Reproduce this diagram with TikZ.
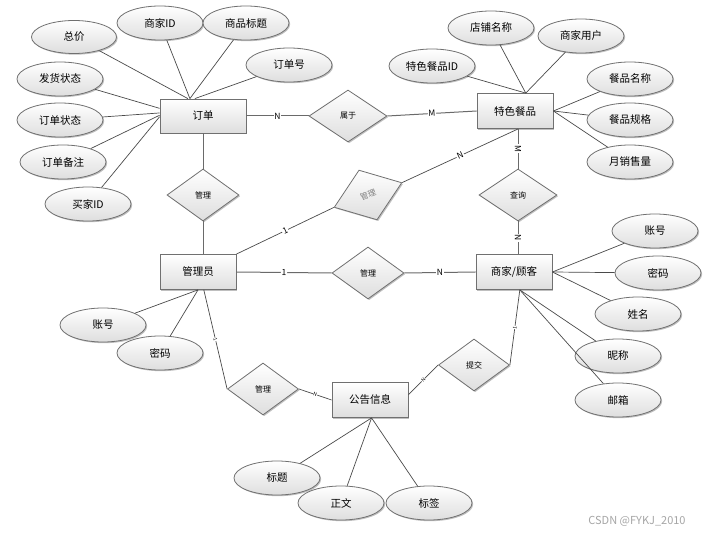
\documentclass[tikz,border=0pt]{standalone}
\usepackage{fontspec}
\setmainfont{Noto Sans CJK SC}
\usetikzlibrary{shapes.geometric,shadows}
\definecolor{edgec}{HTML}{707070}
\definecolor{linec}{HTML}{4A4A4A}
\definecolor{relc}{HTML}{6A6A6A}
\tikzset{
  boxshade/.style={top color=white, bottom color=black!13, draw=edgec, line width=0.8pt,
    drop shadow={shadow xshift=1.2pt, shadow yshift=-1.2pt, fill=black, opacity=0.25}},
  attr/.style={boxshade, ellipse, minimum width=86pt, minimum height=34pt, inner sep=0pt, font=\fontsize{10.5}{12}\selectfont},
  ent/.style={boxshade, rectangle, minimum width=76pt, minimum height=35pt, inner sep=0pt, font=\fontsize{10.5}{12}\selectfont},
  rel/.style={boxshade, diamond, minimum width=72pt, minimum height=52pt, inner sep=0pt, font=\fontsize{8}{9}\selectfont},
  aln/.style={draw=linec, line width=0.7pt},
  rln/.style={draw=relc, line width=1pt},
  lbl/.style={fill=white, inner sep=0.8pt, font=\fontsize{8.5}{9}\selectfont, sloped},
  tlbl/.style={fill=white, inner sep=0.3pt, font=\fontsize{5}{5}\selectfont, sloped}
}
\begin{document}
\begin{tikzpicture}[x=1pt,y=-1pt]
\useasboundingbox (0,0) rectangle (710,534);
\fill[white] (0,0) rectangle (710,534);

% entities
\node[ent, minimum width=86pt, minimum height=34pt] (dd) at (203,116) {订单};
\node[ent] (ts) at (515,111) {特色餐品};
\node[ent] (gly) at (198,272) {管理员};
\node[ent] (sj) at (514,272) {商家/顾客};
\node[ent] (gg) at (370,400) {公告信息};

% relations
\node[rel, minimum width=78pt] (sy) at (348,116) {属于};
\node[rel] (gl1) at (203,195) {管理};
\node[rel, minimum height=53pt, rotate=20, text=gray] (gl2) at (368,195) {管理};
\node[rel, minimum width=78pt] (cx) at (518,195) {查询};
\node[rel] (gl3) at (368,273) {管理};
\node[rel, minimum width=71pt] (tj) at (474,365) {提交};
\node[rel, minimum width=71pt] (gl4) at (263,389) {管理};

% attributes of 订单
\node[attr, minimum width=85pt, minimum height=33pt] (zj) at (74,37) {总价};
\node[attr] (sjid) at (160,23) {商家ID};
\node[attr] (spbt) at (246,23) {商品标题};
\node[attr] (ddh) at (289,65) {订单号};
\node[attr] (fhzt) at (60,79) {发货状态};
\node[attr] (ddzt) at (60,120) {订单状态};
\node[attr] (ddbz) at (63,162) {订单备注};
\node[attr] (mjid) at (88,204) {买家ID};

% attributes of 特色餐品
\node[attr] (dpmc) at (491,28) {店铺名称};
\node[attr] (sjyh) at (581,36) {商家用户};
\node[attr] (tsid) at (432,66) {特色餐品ID};
\node[attr] (cpmc) at (630,79) {餐品名称};
\node[attr] (cpgg) at (630,120) {餐品规格};
\node[attr] (yxl) at (630,162) {月销售量};

% attributes of 商家/顾客
\node[attr] (zh2) at (655,231) {账号};
\node[attr] (mm2) at (658,273) {密码};
\node[attr] (xm) at (638,314) {姓名};
\node[attr] (nc) at (618,356) {昵称};
\node[attr] (yx) at (618,400) {邮箱};

% attributes of 管理员
\node[attr] (zh1) at (103,325) {账号};
\node[attr] (mm1) at (160,353) {密码};

% attributes of 公告信息
\node[attr] (bt) at (277,478) {标题};
\node[attr] (zw) at (341,503) {正文};
\node[attr] (bq) at (429,503) {标签};

% attribute lines
\begin{scope}[on background layer/.style={}]
\draw[aln] (zj) -- (dd.131);
\draw[aln] (sjid) -- (dd.127);
\draw[aln] (spbt) -- (dd.127);
\draw[aln] (ddh) -- (dd.115);
\draw[aln] (fhzt) -- (dd.170);
\draw[aln] (ddzt) -- (dd.176);
\draw[aln] (ddbz) -- (dd.179);
\draw[aln] (mjid) -- (dd.181);

\draw[aln] (dpmc) -- (ts.59);
\draw[aln] (sjyh) -- (ts.59);
\draw[aln] (tsid) -- (ts.59);
\draw[aln] (cpmc) -- (ts.east);
\draw[aln] (cpgg) -- (ts.east);
\draw[aln] (yxl) -- (ts.east);

\draw[aln] (zh2) -- (sj.east);
\draw[aln] (mm2) -- (sj.east);
\draw[aln] (xm) -- (sj.east);
\draw[aln] (nc) -- (sj.-72);
\draw[aln] (yx) -- (sj.-72);

\draw[aln] (zh1) -- (gly.south);
\draw[aln] (mm1) -- (gly.south);

\draw[aln] (bt) -- (gg.-85);
\draw[aln] (zw) -- (gg.-85);
\draw[aln] (bq) -- (gg.-85);
\end{scope}

% relationship lines
\draw[rln] (dd.east) -- node[lbl]{N} (sy.west);
\draw[rln] (sy.east) -- node[lbl]{M} (ts.west);
\draw[rln] (dd.south -| gl1.north) -- (gl1.north);
\draw[rln] (gl1.south) -- (gl1.south |- gly.north);
\draw[aln] (gly.north east) -- node[lbl]{1} (gl2.west);
\draw[aln] (gl2.east) -- node[lbl]{N} (ts.-80);
\draw[rln] (ts.south -| cx.north) -- node[lbl]{M} (cx.north);
\draw[rln] (cx.south) -- node[lbl]{N} (cx.south |- sj.north);
\draw[rln] (gly.east) -- node[lbl]{1} (gl3.west);
\draw[rln] (gl3.east) -- node[lbl]{N} (sj.west);
\draw[aln] (gly.-72) -- node[tlbl]{1} (gl4.west);
\draw[aln] (gl4.east) -- node[tlbl]{N} (gg.west);
\draw[aln] (sj.-72) -- node[tlbl]{1} (tj.east);
\draw[aln] (tj.west) -- node[tlbl]{N} (gg.8);

% watermark
\node[text=black!35, font=\fontsize{11}{12}\selectfont, inner sep=0pt] (wm) at (637,521) {CSDN @FYKJ\_2010};
\end{tikzpicture}
\end{document}
